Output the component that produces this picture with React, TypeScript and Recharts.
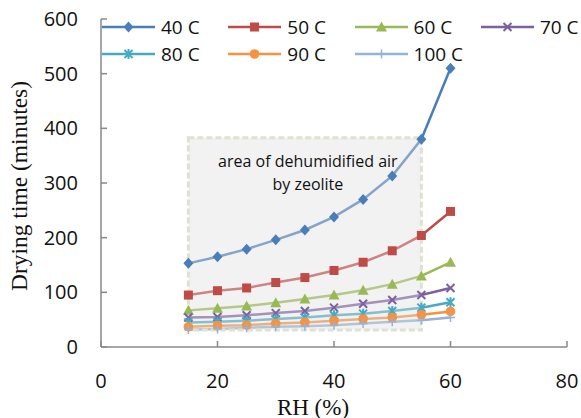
import React from 'react';
import { LineChart, Line, XAxis, YAxis, ReferenceArea, Label } from 'recharts';

// relative humidity (%) and drying time (minutes) per air temperature
const rh = [15, 20, 25, 30, 35, 40, 45, 50, 55, 60];
const t40 = [153, 165, 179, 196, 214, 238, 270, 313, 380, 510];
const t50 = [95, 103, 108, 118, 127, 140, 155, 176, 204, 248];
const t60 = [67, 71, 75, 81, 88, 95, 104, 115, 130, 155];
const t70 = [54, 55, 58, 62, 66, 72, 79, 86, 95, 108];
const t80 = [45, 46, 48, 51, 54, 58, 61, 66, 72, 82];
const t90 = [37, 39, 40, 43, 45, 48, 51, 54, 59, 65];
const t100 = [32, 33, 35, 37, 38, 40, 43, 46, 49, 54];

const xTicks = [0, 20, 40, 60, 80];
const yTicks = [0, 100, 200, 300, 400, 500, 600];

// zeolite zone
const zoneRH = [15, 55];
const zoneTime = [31, 383];
const zoneText = ['area of dehumidified air', 'by zeolite'];

type MarkerKind = 'diamond' | 'square' | 'triangle' | 'x' | 'star' | 'circle' | 'plus';

const series: { key: string; name: string; color: string; marker: MarkerKind; values: number[] }[] = [
  { key: 't40', name: '40 C', color: '#4a7ebb', marker: 'diamond', values: t40 },
  { key: 't50', name: '50 C', color: '#be4b48', marker: 'square', values: t50 },
  { key: 't60', name: '60 C', color: '#98b954', marker: 'triangle', values: t60 },
  { key: 't70', name: '70 C', color: '#7d60a0', marker: 'x', values: t70 },
  { key: 't80', name: '80 C', color: '#46aac5', marker: 'star', values: t80 },
  { key: 't90', name: '90 C', color: '#f69240', marker: 'circle', values: t90 },
  { key: 't100', name: '100 C', color: '#95b3d7', marker: 'plus', values: t100 },
];

const data = rh.map((x, i) => {
  const row: any = { rh: x };
  series.forEach(s => { row[s.key] = s.values[i]; });
  return row;
});

const FONT = '"Open Sans", "Liberation Sans", sans-serif';
const SERIF = '"Liberation Serif", "DejaVu Serif", serif';
const AXIS = '#888888';

const drawMarker = (kind: MarkerKind, cx: number, cy: number, color: string, key?: string) => {
  switch (kind) {
    case 'diamond':
      return <path key={key} d={`M${cx},${cy - 5.5}L${cx + 5},${cy}L${cx},${cy + 5.5}L${cx - 5},${cy}Z`} fill={color} />;
    case 'square':
      return <rect key={key} x={cx - 4.5} y={cy - 4.5} width={9} height={9} fill={color} />;
    case 'triangle':
      return <path key={key} d={`M${cx},${cy - 5.5}L${cx + 5.5},${cy + 4.5}L${cx - 5.5},${cy + 4.5}Z`} fill={color} />;
    case 'x':
      return (
        <path key={key} d={`M${cx - 4},${cy - 4}L${cx + 4},${cy + 4}M${cx + 4},${cy - 4}L${cx - 4},${cy + 4}`}
          stroke={color} strokeWidth={2} fill="none" />
      );
    case 'star':
      return (
        <path key={key}
          d={`M${cx - 4},${cy - 4}L${cx + 4},${cy + 4}M${cx + 4},${cy - 4}L${cx - 4},${cy + 4}M${cx},${cy - 5}L${cx},${cy + 5}`}
          stroke={color} strokeWidth={2} fill="none" />
      );
    case 'circle':
      return <circle key={key} cx={cx} cy={cy} r={4.8} fill={color} />;
    case 'plus':
      return (
        <path key={key} d={`M${cx - 4.5},${cy}L${cx + 4.5},${cy}M${cx},${cy - 4.5}L${cx},${cy + 4.5}`}
          stroke={color} strokeWidth={1.5} fill="none" />
      );
  }
  return null;
};

const ZoneLabel = (props: any) => {
  const vb = props.viewBox || {};
  const cx = vb.x + vb.width / 2 + 3;
  return (
    <g>
      {zoneText.map((line, i) => (
        <text key={line} x={cx} y={vb.y + 23 + i * 23} textAnchor="middle" dominantBaseline="central"
          fontFamily={FONT} fontSize={16} fill="#111">
          {line}
        </text>
      ))}
    </g>
  );
};

const YTitle = (props: any) => {
  const vb = props.viewBox || {};
  const cy = vb.y + vb.height / 2 + 3;
  return (
    <text x={19} y={cy} transform={`rotate(-90 19 ${cy})`} textAnchor="middle" dominantBaseline="central"
      fontFamily={SERIF} fontSize={23.5} fill="#111">
      Drying time (minutes)
    </text>
  );
};

const XTitle = (props: any) => {
  const vb = props.viewBox || {};
  return (
    <text x={313} y={407} textAnchor="middle" dominantBaseline="central"
      fontFamily={SERIF} fontSize={23} fill="#111">
      RH (%)
    </text>
  );
};

const LegendOverlay = () => (
  <div style={{ position: 'absolute', left: 0, top: 0, width: 581, height: 70, pointerEvents: 'none' }}>
    {series.map((s, i) => {
      const col = i % 4;
      const row = Math.floor(i / 4);
      const left = 102 + col * 126.3;
      const top = 27 + row * 27 - 10;
      return (
        <div key={s.key} style={{ position: 'absolute', left, top, height: 20, display: 'flex', alignItems: 'center' }}>
          <svg width={54} height={20} style={{ display: 'block' }}>
            <line x1={0} y1={10} x2={53} y2={10} stroke={s.color} strokeWidth={2.5} />
            {drawMarker(s.marker, 26.5, 10, s.color)}
          </svg>
          <span style={{ marginLeft: 5, fontFamily: FONT, fontSize: 19, lineHeight: '20px', color: '#111', whiteSpace: 'nowrap' }}>
            {s.name}
          </span>
        </div>
      );
    })}
  </div>
);

export default function App() {
  return (
    <div style={{ position: 'absolute', left: 0, top: 0, width: 581, height: 418, background: '#fff' }}>
      <LineChart width={581} height={418} data={data} margin={{ top: 19, right: 14, bottom: 0, left: 0 }}>
        <XAxis dataKey="rh" type="number" domain={[0, 80]} ticks={xTicks} height={71}
          stroke={AXIS} strokeWidth={1.5} tickSize={-6} tickMargin={33}
          tick={{ fontFamily: FONT, fontSize: 20, fill: '#111' }}>
          <Label content={<XTitle />} />
        </XAxis>
        <YAxis type="number" domain={[0, 600]} ticks={yTicks} width={101}
          stroke={AXIS} strokeWidth={1.5} tickSize={-6} tickMargin={29}
          tick={{ fontFamily: FONT, fontSize: 20, fill: '#111' }}>
          <Label content={<YTitle />} />
        </YAxis>
        {series.map(s => (
          <Line key={s.key} dataKey={s.key} name={s.name} stroke={s.color} strokeWidth={2.5}
            isAnimationActive={false}
            dot={(p: any) => drawMarker(s.marker, p.cx, p.cy, s.color, `${s.key}-${p.index}`)}
            activeDot={false} />
        ))}
        <ReferenceArea x1={zoneRH[0]} x2={zoneRH[1]} y1={zoneTime[0]} y2={zoneTime[1]}
          fill="#dedede" fillOpacity={0.4} stroke="#dde2d2" strokeWidth={3} strokeDasharray="6 3"
          strokeOpacity={1} ifOverflow="visible" zIndex={450}>
          <Label content={<ZoneLabel />} />
        </ReferenceArea>
      </LineChart>
      <LegendOverlay />
    </div>
  );
}
